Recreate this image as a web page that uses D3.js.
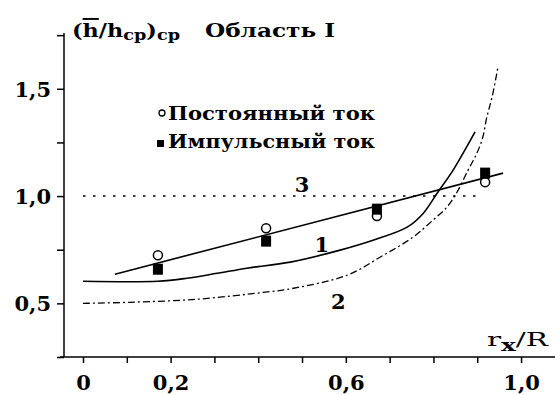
<!DOCTYPE html>
<html><head><meta charset="utf-8">
<script src="https://cdn.jsdelivr.net/npm/d3@7"></script>
<style>
html,body{margin:0;padding:0;background:#fff;}
text{font-family:"DejaVu Serif",serif;font-weight:bold;fill:#000;}
</style></head>
<body><svg id="c" width="555" height="395"></svg>
<script>
// ---- data ----
const xTicks = [0,0.1,0.2,0.3,0.4,0.5,0.6,0.7,0.8,0.9,1.0];
const xLabels = ["0","","0,2","","","","0,6","","","","1,0"];
const yTicks = [0.25,0.5,0.75,1.0,1.25,1.5,1.75];
const yLabels = ["","0,5","","1,0","","1,5",""];
// Постоянный ток (open circles)
const dcX = [0.171,0.418,0.671,0.918];
const dcY = [0.724,0.850,0.907,1.065];
// Импульсный ток (filled squares)
const pulseX = [0.171,0.418,0.671,0.918];
const pulseY = [0.659,0.790,0.939,1.107];
// fitted straight line through experimental points
const fitX = [0.073,0.959];
const fitY = [0.636,1.107];
// curve 1 (solid)
const c1X = [0,0.171,0.237,0.306,0.374,0.473,0.587,0.662,0.740,0.776,0.808,0.845,0.872,0.895];
const c1Y = [0.603,0.603,0.617,0.640,0.664,0.692,0.748,0.794,0.855,0.918,1.012,1.121,1.215,1.299];
// curve 2 (dash-dot)
const c2X = [0,0.107,0.260,0.411,0.466,0.603,0.678,0.753,0.799,0.831,0.854,0.879,0.895,0.911,0.922,0.934,0.947];
const c2Y = [0.500,0.505,0.519,0.551,0.565,0.631,0.715,0.808,0.888,0.949,1.019,1.121,1.182,1.262,1.369,1.463,1.598];
// curve 3 (dotted, constant)
const c3X = [0,0.9];
const c3Y = [1.0,1.0];
// curve labels
const curveLabels = ["1","2","3"];
const curveLabelX = [0.545,0.583,0.5];
const curveLabelY = [0.74,0.475,1.02];
const legendLabels = ["Постоянный ток","Импульсный ток"];

// ---- scales ----
const svg = d3.select("#c");
const x = d3.scaleLinear().domain([-0.0525,1.0775]).range([60,555]);
const y = d3.scaleLinear().domain([0.25,1.76]).range([357,33]);
const zip = (a,b)=>a.map((v,i)=>[v,b[i]]);
const line = d3.line().x(d=>x(d[0])).y(d=>y(d[1]));
const curve = d3.line().x(d=>x(d[0])).y(d=>y(d[1])).curve(d3.curveCatmullRom.alpha(0.5));
const FONT = '"DejaVu Serif",serif';

// axes
const xAxis = svg.append("g").attr("transform",`translate(0,${y(0.25)})`)
  .call(d3.axisBottom(x).tickValues(xTicks).tickSize(6).tickPadding(0).tickFormat((d,i)=>xLabels[i]));
xAxis.select(".domain").attr("d",`M${x.range()[0]},0H${x.range()[1]}`).attr("stroke-width",1.5);
xAxis.selectAll(".tick line").attr("stroke-width",1.5);
xAxis.selectAll(".tick text").attr("y",33).attr("dy",0).style("font-size","21px").style("font-family",FONT).style("font-weight","bold");

const yAxis = svg.append("g").attr("transform",`translate(64,0)`)
  .call(d3.axisLeft(y).tickValues(yTicks).tickSize(7).tickPadding(6).tickFormat((d,i)=>yLabels[i]));
yAxis.select(".domain").attr("d",`M0,${y.range()[0]}V${y.range()[1]}`).attr("stroke-width",1.5);
yAxis.selectAll(".tick line").attr("stroke-width",1.5);
yAxis.selectAll(".tick text").attr("dy","0.36em").style("font-size","21px").style("font-family",FONT).style("font-weight","bold");

// curves
svg.append("path").datum(zip(c3X,c3Y)).attr("d",line).attr("fill","none").attr("stroke","#000").attr("stroke-width",1.6).attr("stroke-dasharray","2.5,7.5");
svg.append("path").datum(zip(c2X,c2Y)).attr("d",curve).attr("fill","none").attr("stroke","#000").attr("stroke-width",1.3).attr("stroke-dasharray","7,3,2,3");
svg.append("path").datum(zip(c1X,c1Y)).attr("d",curve).attr("fill","none").attr("stroke","#000").attr("stroke-width",1.6);
svg.append("path").datum(zip(fitX,fitY)).attr("d",line).attr("fill","none").attr("stroke","#000").attr("stroke-width",1.6);

// markers
svg.append("g").selectAll("circle").data(zip(dcX,dcY)).join("circle")
  .attr("cx",d=>x(d[0])).attr("cy",d=>y(d[1])).attr("r",4.5)
  .attr("fill","#fff").attr("stroke","#000").attr("stroke-width",1.5);
svg.append("g").selectAll("rect").data(zip(pulseX,pulseY)).join("rect")
  .attr("x",d=>x(d[0])-5).attr("y",d=>y(d[1])-5.5).attr("width",10).attr("height",11)
  .attr("fill","#000");

// curve labels
svg.append("g").selectAll("text").data(curveLabels).join("text")
  .attr("x",(d,i)=>x(curveLabelX[i])).attr("y",(d,i)=>y(curveLabelY[i]))
  .attr("text-anchor","middle").style("font-size","21px").text(d=>d);

// legend
const lg = svg.append("g");
lg.append("circle").attr("cx",162).attr("cy",113).attr("r",3).attr("fill","#fff").attr("stroke","#000").attr("stroke-width",1.3);
lg.append("rect").attr("x",157).attr("y",140).attr("width",7).attr("height",7).attr("fill","#000");
lg.selectAll("text").data(legendLabels).join("text")
  .attr("x",168).attr("y",(d,i)=>120+i*28).attr("textLength",207).attr("lengthAdjust","spacingAndGlyphs")
  .style("font-size","18px").text(d=>d);

// title
const t = svg.append("text").attr("x",72).attr("y",37).attr("textLength",108).attr("lengthAdjust","spacingAndGlyphs").style("font-size","19px");
t.append("tspan").text("(");
t.append("tspan").style("text-decoration","overline").text("h");
t.append("tspan").text("/h");
t.append("tspan").attr("dy",3).style("font-size","15px").text("cp");
t.append("tspan").attr("dy",-3).text(")");
t.append("tspan").attr("dy",3).style("font-size","15px").text("cp");
svg.append("text").attr("x",205).attr("y",37).attr("textLength",130).attr("lengthAdjust","spacingAndGlyphs").style("font-size","19px").text("Область I");

// axis title
const xt = svg.append("text").attr("x",487).attr("y",346).attr("textLength",61).attr("lengthAdjust","spacingAndGlyphs").style("font-size","19px").style("font-weight","normal");
xt.append("tspan").text("r");
xt.append("tspan").attr("dy",5).style("font-size","16px").style("font-weight","bold").text("x");
xt.append("tspan").attr("dy",-5).text("/R");
</script></body></html>
